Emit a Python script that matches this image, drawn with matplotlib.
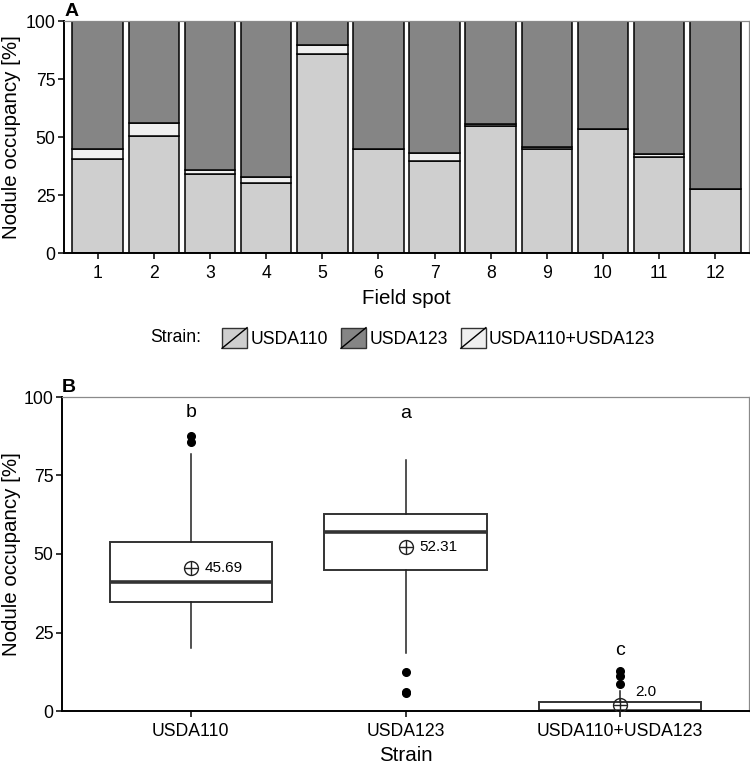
import matplotlib
matplotlib.use("Agg")
import matplotlib.pyplot as plt
from matplotlib.patches import Rectangle
from matplotlib.lines import Line2D
from matplotlib.legend_handler import HandlerBase

plt.rcParams['font.family'] = ['Liberation Sans', 'DejaVu Sans']

# panel A data
spots = [1, 2, 3, 4, 5, 6, 7, 8, 9, 10, 11, 12]
usda110 = [40.5, 50.4, 34.0, 30.0, 85.8, 45.0, 39.8, 54.7, 45.0, 53.3, 41.5, 27.4]
mixed = [4.2, 5.8, 1.8, 2.9, 3.7, 0.0, 3.4, 0.9, 0.8, 0.0, 1.2, 0.0]
usda123 = [100 - a - b for a, b in zip(usda110, mixed)]

# panel B data (box stats)
strains = ["USDA110", "USDA123", "USDA110+USDA123"]
q1 = [34.8, 44.9, 0.0]
med = [41.2, 56.9, 0.0]
q3 = [53.9, 62.8, 2.8]
whislo = [20.0, 18.4, 0.0]
whishi = [81.8, 79.9, 6.5]
fliers = [[85.8, 87.6], [12.3, 6.2, 5.6], [8.6, 11.2, 12.8]]
means = [45.69, 52.31, 2.0]
mean_labels = ["45.69", "52.31", "2.0"]
letters = ["b", "a", "c"]
letter_y = [95, 94.6, 19.2]

c110 = "#cfcfcf"
c123 = "#858585"
cmix = "#efefef"

fig = plt.figure(figsize=(7.5, 7.64), dpi=100)
W, H = 750, 764

def add_ax(l, t, r, b):
    return fig.add_axes([l / W, 1 - b / H, (r - l) / W, (b - t) / H])

def style(ax):
    for s in ["left", "bottom"]:
        ax.spines[s].set_color("black")
        ax.spines[s].set_linewidth(1.4)
    for s in ["top", "right"]:
        ax.spines[s].set_color("#8a8a8a")
        ax.spines[s].set_linewidth(0.9)
    ax.tick_params(length=4, width=1.1, labelsize=12.7, colors="black", pad=2)
    ax.set_ylim(0, 100)
    ax.set_yticks([0, 25, 50, 75, 100])

# ---- panel A
axA = add_ax(64, 21, 749, 253)
axA.bar(spots, usda110, width=0.9, color=c110, edgecolor="black", linewidth=1.1)
axA.bar(spots, mixed, bottom=usda110, width=0.9, color=cmix, edgecolor="black", linewidth=1.1)
bot = [a + b for a, b in zip(usda110, mixed)]
axA.bar(spots, usda123, bottom=bot, width=0.9, color=c123, edgecolor="black", linewidth=1.1)
axA.set_xlim(0.4, 12.6)
axA.set_xticks(spots)
style(axA)
axA.tick_params(axis="x", pad=5)
axA.set_xlabel("Field spot", fontsize=14.8, labelpad=5)
axA.set_ylabel("Nodule occupancy [%]", fontsize=14.8)
axA.yaxis.set_label_coords(-43 / 685, 0.5)
fig.text(65 / W, 1 - 16 / H, "A", fontsize=14, fontweight="bold", ha="left", va="baseline")

# legend
class SlashHandler(HandlerBase):
    def create_artists(self, legend, orig_handle, xdescent, ydescent, width, height, fontsize, trans):
        r = Rectangle((-xdescent, -ydescent), width, height, facecolor=orig_handle.get_facecolor(),
                      edgecolor="#333333", lw=1.0, transform=trans)
        ln = Line2D([-xdescent, -xdescent + width], [-ydescent, -ydescent + height],
                    color="black", lw=1.0, transform=trans)
        return [r, ln]

handles = [Rectangle((0, 0), 1, 1, facecolor=c) for c in (c110, c123, cmix)]
fig.legend(handles, ["USDA110", "USDA123", "USDA110+USDA123"], ncol=3,
           handler_map={Rectangle: SlashHandler()}, loc="center left",
           bbox_to_anchor=(222 / W, 1 - 338 / H), frameon=False, fontsize=12.7,
           handlelength=1.42, handleheight=1.42, handletextpad=0.18, columnspacing=0.75,
           borderpad=0, borderaxespad=0)
fig.text(150 / W, 1 - 338 / H, "Strain:", fontsize=12.7, ha="left", va="center")

# ---- panel B
axB = add_ax(62, 397, 749, 711)
pos = [1, 2, 3]
stats = []
for i in range(3):
    stats.append(dict(med=med[i], q1=q1[i], q3=q3[i], whislo=whislo[i], whishi=whishi[i],
                      fliers=fliers[i], label=strains[i]))
axB.bxp(stats, positions=pos, widths=0.755, showcaps=False, patch_artist=True,
        boxprops=dict(facecolor="white", edgecolor="#333333", linewidth=1.4),
        medianprops=dict(color="#333333", linewidth=2.6),
        whiskerprops=dict(color="#222222", linewidth=1.1),
        flierprops=dict(marker="o", markerfacecolor="black", markeredgecolor="black", markersize=5.5))
axB.plot(pos, means, linestyle="none", marker="o", markersize=10, markerfacecolor="none",
         markeredgecolor="#222222", markeredgewidth=1.0, zorder=5)
axB.plot(pos, means, linestyle="none", marker="+", markersize=10, markeredgecolor="#222222",
         markeredgewidth=1.0, zorder=5)
for i in range(3):
    if i < 2:
        axB.annotate(mean_labels[i], (pos[i], means[i]), xytext=(10, 0), textcoords="offset points",
                     fontsize=11, va="center", ha="left")
    else:
        axB.annotate(mean_labels[i], (pos[i], means[i]), xytext=(11, 9), textcoords="offset points",
                     fontsize=11, va="center", ha="left")
    axB.text(pos[i], letter_y[i], letters[i], fontsize=14, ha="center", va="center")
axB.set_xlim(0.4, 3.6)
style(axB)
axB.tick_params(axis="x", pad=5)
axB.set_xlabel("Strain", fontsize=14.8, labelpad=4)
axB.set_ylabel("Nodule occupancy [%]", fontsize=14.8)
axB.yaxis.set_label_coords(-41 / 687, 0.5)
fig.text(62 / W, 1 - 392 / H, "B", fontsize=14, fontweight="bold", ha="left", va="baseline")

fig.savefig("out.png", dpi=100)
